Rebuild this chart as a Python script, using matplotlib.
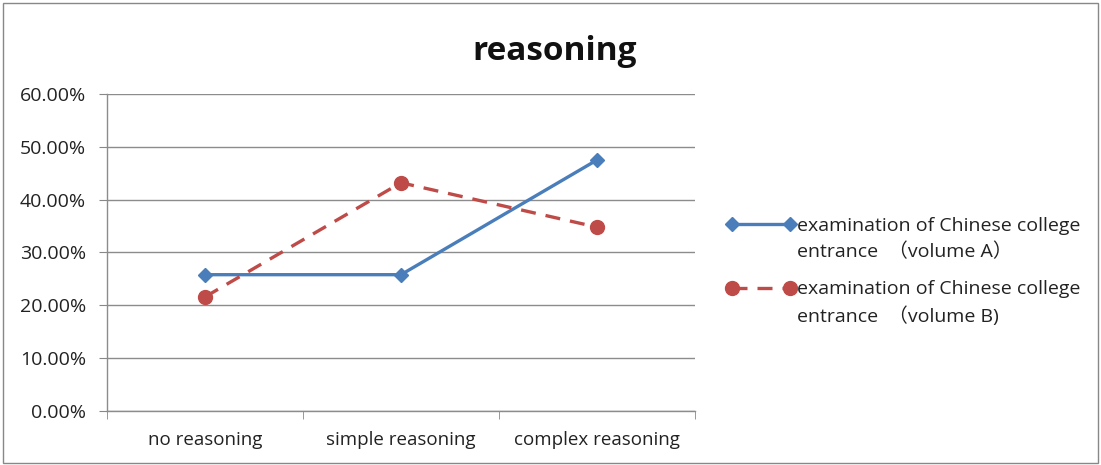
import matplotlib
matplotlib.use("Agg")
import matplotlib.pyplot as plt
from matplotlib.patches import Rectangle
from matplotlib.legend_handler import HandlerLine2D
from matplotlib.ticker import FixedLocator, PercentFormatter

plt.rcParams['font.family'] = ['Open Sans', 'Noto Sans CJK SC', 'DejaVu Sans']

categories = ["no reasoning", "simple reasoning", "complex reasoning"]
volume_a = [25.8, 25.8, 47.5]
volume_b = [21.6, 43.2, 34.8]
label_a = "examination of Chinese college\nentrance  （volume A）"
label_b = "examination of Chinese college\nentrance  （volume B)"
y_ticks = [0, 10, 20, 30, 40, 50, 60]


class TopLineHandler(HandlerLine2D):
    """Places the legend key level with the first line of a two-line label."""

    def __init__(self, lift=11.0, **kw):
        super().__init__(**kw)
        self.lift = lift

    def create_artists(self, legend, orig_handle, xdescent, ydescent,
                       width, height, fontsize, trans):
        artists = super().create_artists(legend, orig_handle, xdescent, ydescent,
                                         width, height, fontsize, trans)
        for a in artists:
            a.set_ydata([y + self.lift for y in a.get_ydata()])
        return artists


fig = plt.figure(figsize=(11.01, 4.65), dpi=100)
ax = fig.add_axes([0.0972, 0.116, 0.534, 0.682])

x = list(range(len(categories)))
line_a, = ax.plot(x, volume_a, color="#4A7EBB", lw=2.4, marker="D", ms=7.5,
                  label=label_a, zorder=3)
line_b, = ax.plot(x, volume_b, color="#BE4B48", lw=2.4, ls=(0, (4.5, 3)),
                  marker="o", ms=10, label=label_b, zorder=3)

ax.set_xlim(-0.5, 2.5)
ax.set_ylim(0, 60)
ax.set_yticks(y_ticks)
ax.yaxis.set_major_formatter(PercentFormatter(decimals=2))
ax.set_xticks(x)
ax.set_xticklabels(categories)
ax.xaxis.set_minor_locator(FixedLocator([-0.5, 0.5, 1.5, 2.5]))
ax.tick_params(axis="x", which="major", length=0, pad=14, labelsize=13.5,
               colors="#222222")
ax.tick_params(axis="x", which="minor", length=6, color="#888888")
ax.tick_params(axis="y", length=6, color="#888888", labelsize=14,
               colors="#222222", pad=9)
ax.grid(axis="y", color="#8c8c8c", lw=1)
ax.set_axisbelow(True)
for s in ("top", "right"):
    ax.spines[s].set_visible(False)
for s in ("left", "bottom"):
    ax.spines[s].set_color("#8c8c8c")
    ax.spines[s].set_linewidth(1)

fig.text(0.504, 0.89, "reasoning", ha="center", va="center",
         fontsize=24, fontweight="bold", color="#111111")

leg = fig.legend(handles=[line_a, line_b], loc="center left",
                 bbox_to_anchor=(0.6594, 0.416), frameon=False,
                 fontsize=14, numpoints=2, handlelength=3.6, handletextpad=0.05,
                 labelspacing=1.0, borderpad=0, borderaxespad=0,
                 handler_map={line_a: TopLineHandler(), line_b: TopLineHandler()})
for t in leg.get_texts():
    t.set_color("#222222")
    t.set_linespacing(1.5)

fig.patches.append(Rectangle((0.003, 0.004), 0.994, 0.99, transform=fig.transFigure,
                             fill=False, edgecolor="#888888", lw=1))

fig.savefig("out.png", dpi=100)
